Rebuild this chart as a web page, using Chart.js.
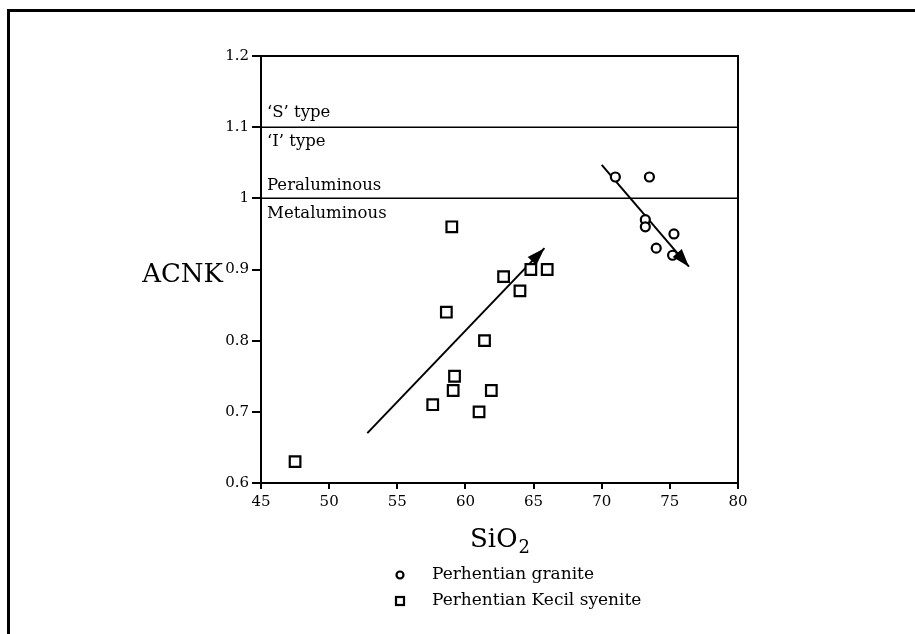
<!DOCTYPE html>
<html>
<head>
<meta charset="utf-8">
<script src="https://cdn.jsdelivr.net/npm/chart.js@4/dist/chart.umd.min.js"></script>
<style>
  html, body { margin: 0; padding: 0; background: #fff; }
  #wrap { position: relative; width: 915px; height: 634px; }
  #frame { position: absolute; left: 7px; top: 9px; right: 0; bottom: 0; border-top: 3px solid #000; border-left: 3px solid #000; pointer-events: none; }
  canvas { position: absolute; left: 0; top: 0; }
</style>
</head>
<body>
<div id="wrap">
  <canvas id="acnk-chart" width="915" height="634"></canvas>
  <div id="frame"></div>
</div>
<script>
// granite (circles) and syenite (squares)
const graniteSiO2 = [71.0, 73.5, 73.2, 73.2, 75.3, 74.0, 75.2];
const graniteACNK = [1.03, 1.03, 0.97, 0.96, 0.95, 0.93, 0.92];
const syeniteSiO2 = [47.5, 59.0, 62.8, 64.8, 66.0, 64.0, 58.6, 61.4, 59.2, 59.1, 61.9, 57.6, 61.0];
const syeniteACNK = [0.63, 0.96, 0.89, 0.90, 0.90, 0.87, 0.84, 0.80, 0.75, 0.73, 0.73, 0.71, 0.70];

// trend arrows: [start, end]
const syeniteArrow = [[52.8, 0.67], [65.8, 0.93]];
const graniteArrow = [[70.0, 1.047], [76.4, 0.904]];

// boundary lines
const boundaryACNK = [1.1, 1.0];
const xRange = [45, 80];
const yRange = [0.6, 1.2];

const seriesNames = ['Perhentian granite', 'Perhentian Kecil syenite'];
const serif = '"DejaVu Serif", serif';

const toPoints = (xs, ys) => xs.map((x, i) => ({ x: x, y: ys[i] }));
const pairPoints = pair => pair.map(p => ({ x: p[0], y: p[1] }));

const lineStyle = { type: 'line', showLine: true, pointRadius: 0, borderColor: '#000', borderWidth: 2, fill: false };

const datasets = [
  { label: seriesNames[0], data: toPoints(graniteSiO2, graniteACNK), pointStyle: 'circle', pointRadius: 4.5,
    borderColor: '#000', borderWidth: 2.2, backgroundColor: '#fff', showLine: false },
  { label: seriesNames[1], data: toPoints(syeniteSiO2, syeniteACNK), pointStyle: 'rect', pointRadius: 7.5,
    borderColor: '#000', borderWidth: 2.2, backgroundColor: '#fff', showLine: false },
  Object.assign({ label: 'arrow1', data: pairPoints(syeniteArrow), arrow: true }, lineStyle),
  Object.assign({ label: 'arrow2', data: pairPoints(graniteArrow), arrow: true }, lineStyle)
];
boundaryACNK.forEach(v => {
  datasets.push(Object.assign({ label: 'b' + v, data: [{ x: xRange[0], y: v }, { x: xRange[1], y: v }] }, lineStyle, { borderWidth: 1.5 }));
});

const decorPlugin = {
  id: 'decor',
  afterDatasetsDraw(chart) {
    const ctx = chart.ctx;
    const a = chart.chartArea;
    const ys = chart.scales.y;
    ctx.save();
    // box
    ctx.strokeStyle = '#000';
    ctx.lineWidth = 2;
    ctx.strokeRect(a.left, a.top, a.right - a.left, a.bottom - a.top);

    // arrowheads
    chart.data.datasets.forEach((ds, i) => {
      if (!ds.arrow) return;
      const pts = chart.getDatasetMeta(i).data;
      const p0 = pts[0], p1 = pts[pts.length - 1];
      const ang = Math.atan2(p1.y - p0.y, p1.x - p0.x);
      const len = 18, half = 6;
      ctx.beginPath();
      ctx.moveTo(p1.x, p1.y);
      ctx.lineTo(p1.x - len * Math.cos(ang) + half * Math.sin(ang), p1.y - len * Math.sin(ang) - half * Math.cos(ang));
      ctx.lineTo(p1.x - len * Math.cos(ang) - half * Math.sin(ang), p1.y - len * Math.sin(ang) + half * Math.cos(ang));
      ctx.closePath();
      ctx.fillStyle = '#000';
      ctx.fill();
    });

    // region labels
    ctx.fillStyle = '#000';
    ctx.font = '16.5px ' + serif;
    ctx.textAlign = 'left';
    ctx.textBaseline = 'alphabetic';
    const lx = a.left + 6;
    ctx.fillText('\u2018S\u2019 type', lx, ys.getPixelForValue(1.1) - 10);
    ctx.fillText('\u2018I\u2019 type', lx, ys.getPixelForValue(1.1) + 19);
    ctx.fillText('Peraluminous', lx, ys.getPixelForValue(1.0) - 8);
    ctx.fillText('Metaluminous', lx, ys.getPixelForValue(1.0) + 20);

    // axis titles
    ctx.font = '26px ' + serif;
    ctx.textAlign = 'right';
    ctx.fillText('ACNK', 223, ys.getPixelForValue(0.9) + 12);
    ctx.textAlign = 'left';
    const sx = 470, sy = 547;
    ctx.fillText('SiO', sx, sy);
    const w = ctx.measureText('SiO').width;
    ctx.font = '18px ' + serif;
    ctx.fillText('2', sx + w + 1, sy + 6);

    // legend
    const rows = [575, 601];
    ctx.font = '17px ' + serif;
    ctx.textBaseline = 'middle';
    ctx.lineWidth = 2.2;
    ctx.beginPath();
    ctx.arc(400, rows[0], 3.5, 0, Math.PI * 2);
    ctx.stroke();
    ctx.strokeRect(396, rows[1] - 4, 8, 8);
    ctx.fillText(seriesNames[0], 432, rows[0]);
    ctx.fillText(seriesNames[1], 432, rows[1]);
    ctx.restore();
  }
};

new Chart(document.getElementById('acnk-chart'), {
  type: 'scatter',
  data: { datasets: datasets },
  options: {
    responsive: false,
    animation: false,
    layout: { padding: { left: 0, top: 56, right: 177, bottom: 0 } },
    plugins: { legend: { display: false }, tooltip: { enabled: false } },
    scales: {
      x: {
        type: 'linear', min: xRange[0], max: xRange[1],
        ticks: { stepSize: 5, color: '#000', font: { family: serif, size: 15 }, padding: 4, maxRotation: 0 },
        grid: { drawOnChartArea: false, color: '#000', tickLength: 6, lineWidth: 2 },
        border: { color: '#000', width: 2 },
        afterFit(s) { s.height = 151; }
      },
      y: {
        type: 'linear', min: yRange[0], max: yRange[1],
        ticks: { stepSize: 0.1, color: '#000', font: { family: serif, size: 15 }, padding: 3,
          callback: v => (Math.round(v * 10) / 10 === 1 ? '1' : (Math.round(v * 10) / 10).toFixed(1)) },
        grid: { drawOnChartArea: false, color: '#000', tickLength: 9, lineWidth: 2 },
        border: { color: '#000', width: 2 },
        afterFit(s) { s.width = 261; }
      }
    }
  },
  plugins: [decorPlugin]
});
</script>
</body>
</html>
